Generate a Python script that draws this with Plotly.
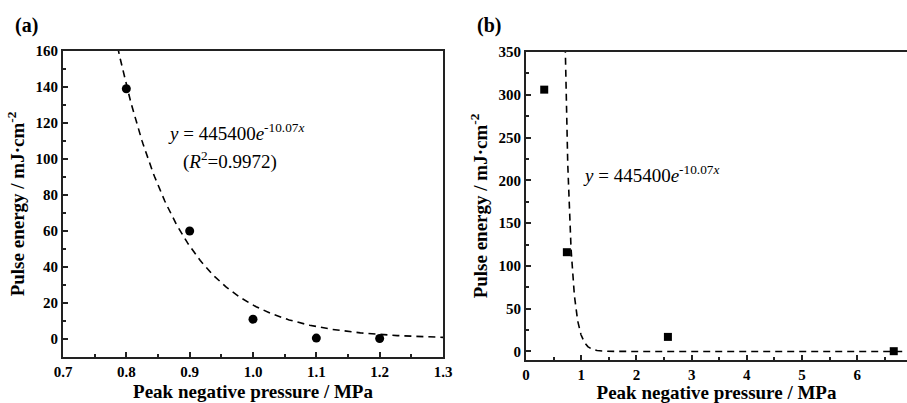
import numpy as np
import plotly.graph_objects as go
from plotly.subplots import make_subplots

# ---- data ----
a_pressure = [0.8, 0.9, 1.0, 1.1, 1.2]
a_energy = [139, 60, 11, 0.5, 0.3]

b_pressure = [0.33, 0.74, 2.57, 6.66]
b_energy = [306, 116, 17, 0.3]

# fitted model shown in the chart: y = A * exp(B * x)
fit_A = 445400
fit_B = -10.07
fit_a_x = np.linspace(0.7, 1.3, 300)
fit_b_x = np.concatenate([np.linspace(0.6, 1.6, 400), np.linspace(1.6, 6.85, 100)])

a_xticks = [0.7, 0.8, 0.9, 1.0, 1.1, 1.2, 1.3]
a_xticklabels = ["0.7", "0.8", "0.9", "1.0", "1.1", "1.2", "1.3"]

FONT = "'Liberation Serif', 'Times New Roman', Times, serif"
AX_COLOR = "#222222"

fig = make_subplots(rows=1, cols=2)

fig.add_trace(go.Scatter(x=fit_a_x, y=fit_A * np.exp(fit_B * fit_a_x), mode="lines",
                         line=dict(color="black", width=1.6, dash="7px,5px"),
                         showlegend=False, hoverinfo="skip"), row=1, col=1)
fig.add_trace(go.Scatter(x=a_pressure, y=a_energy, mode="markers",
                         marker=dict(symbol="circle", size=9, color="black"),
                         showlegend=False), row=1, col=1)

fig.add_trace(go.Scatter(x=fit_b_x, y=fit_A * np.exp(fit_B * fit_b_x), mode="lines",
                         line=dict(color="black", width=1.6, dash="7px,5px"),
                         showlegend=False, hoverinfo="skip"), row=1, col=2)
fig.add_trace(go.Scatter(x=b_pressure, y=b_energy, mode="markers",
                         marker=dict(symbol="square", size=8, color="black"),
                         showlegend=False), row=1, col=2)

W, H = 907, 403
def dx(px0, px1):
    return [px0 / W, px1 / W]
def dy(top, bottom):
    return [1 - bottom / H, 1 - top / H]

tickfont = dict(family=FONT, size=15, color="black", weight="bold")
titlefont = dict(family=FONT, size=19, color="black", weight="bold")
minor_ticks = dict(ticks="inside", ticklen=3, tickcolor=AX_COLOR, tickwidth=1.5)
common = dict(showline=True, linecolor=AX_COLOR, linewidth=2, ticks="inside",
              tickcolor=AX_COLOR, tickwidth=1.5, ticklen=5, showgrid=False,
              zeroline=False, tickfont=tickfont, automargin=False)

fig.update_layout(
    xaxis=dict(domain=dx(63, 443), range=[0.7, 1.3], tickvals=a_xticks,
               ticktext=a_xticklabels, mirror=True,
               minor=dict(dtick=0.05, **minor_ticks),
               title=dict(text="Peak negative pressure / MPa", font=titlefont, standoff=6),
               **common),
    yaxis=dict(domain=dy(51, 357), range=[-10, 160], dtick=20, tick0=0, mirror=True,
               minor=dict(dtick=10, **minor_ticks),
               title=dict(text="Pulse energy / mJ·cm<sup>-2</sup>", font=titlefont, standoff=6),
               **common),
    xaxis2=dict(domain=dx(526, 907), range=[0, 6.9], dtick=1, tick0=0, mirror=True,
                minor=dict(dtick=0.5, **minor_ticks),
                title=dict(text="Peak negative pressure / MPa", font=titlefont, standoff=6),
                **common),
    yaxis2=dict(domain=dy(52, 360), range=[-10, 350], dtick=50, tick0=0, mirror=False,
                minor=dict(dtick=25, **minor_ticks),
                title=dict(text="Pulse energy / mJ·cm<sup>-2</sup>", font=titlefont, standoff=6),
                **common),
    width=W, height=H, margin=dict(l=0, r=0, t=0, b=0),
    plot_bgcolor="white", paper_bgcolor="white",
    font=dict(family=FONT, color="black"),
)

ann_font = dict(family=FONT, size=19, color="black")
lab_font = dict(family=FONT, size=20, color="black", weight="bold")
fig.add_annotation(xref="paper", yref="paper", x=13 / W, y=1 - 25 / H, text="(a)",
                   showarrow=False, xanchor="left", yanchor="middle", font=lab_font)
fig.add_annotation(xref="paper", yref="paper", x=475 / W, y=1 - 25 / H, text="(b)",
                   showarrow=False, xanchor="left", yanchor="middle", font=lab_font)
fig.add_annotation(xref="paper", yref="paper", x=166 / W, y=1 - 132 / H,
                   text="<i>y</i> = 445400<i>e</i><sup>-10.07<i>x</i></sup>",
                   showarrow=False, xanchor="left", yanchor="middle", font=ann_font)
fig.add_annotation(xref="paper", yref="paper", x=181 / W, y=1 - 160 / H,
                   text="(<i>R</i><sup>2</sup>=0.9972)",
                   showarrow=False, xanchor="left", yanchor="middle", font=ann_font)
fig.add_annotation(xref="paper", yref="paper", x=581 / W, y=1 - 174 / H,
                   text="<i>y</i> = 445400<i>e</i><sup>-10.07<i>x</i></sup>",
                   showarrow=False, xanchor="left", yanchor="middle", font=ann_font)

fig.write_html("out.html")
